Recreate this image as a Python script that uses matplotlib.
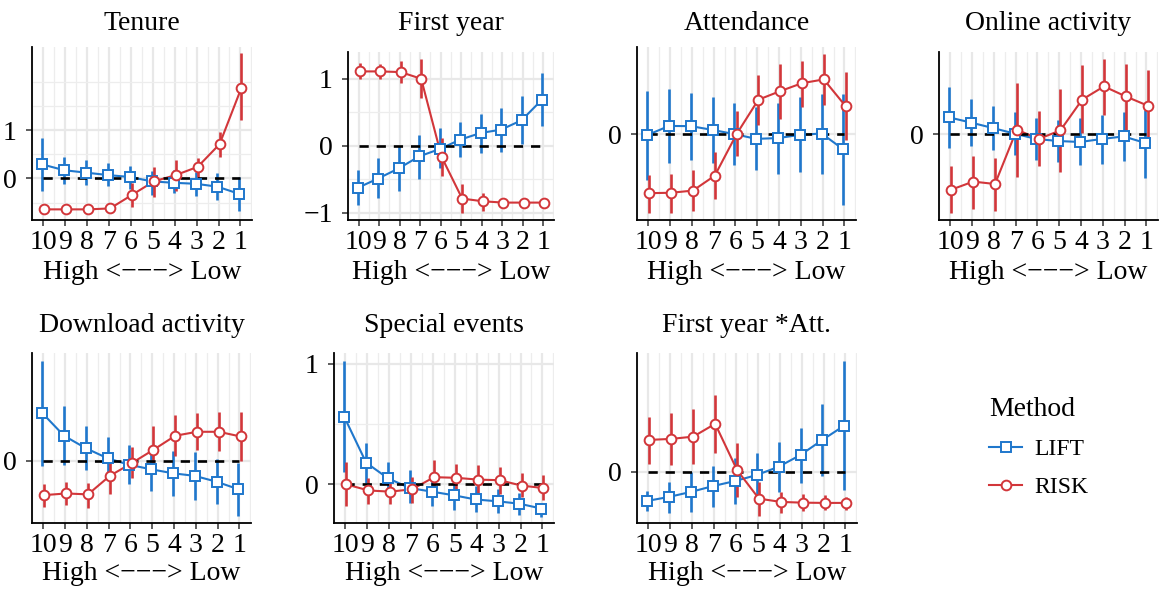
import numpy as np
import matplotlib
matplotlib.use("Agg")
import matplotlib.pyplot as plt
from matplotlib.lines import Line2D

plt.rcParams['font.family'] = ['Liberation Serif', 'DejaVu Serif']
plt.rcParams['font.size'] = 20

# x axis: deciles, high to low
deciles = ['10', '9', '8', '7', '6', '5', '4', '3', '2', '1']
x_label = 'High <\u2212\u2212\u2212> Low'
methods = ['LIFT', 'RISK']

# Tenure
tenure_lift = [0.29, 0.17, 0.12, 0.07, 0.03, -0.06, -0.09, -0.11, -0.17, -0.32]
tenure_lift_lo = [-0.26, -0.12, -0.14, -0.15, -0.21, -0.34, -0.31, -0.37, -0.45, -0.68]
tenure_lift_hi = [0.83, 0.45, 0.38, 0.31, 0.26, 0.16, 0.17, 0.14, 0.12, 0.02]
tenure_risk = [-0.64, -0.64, -0.64, -0.62, -0.34, -0.06, 0.07, 0.24, 0.71, 1.88]
tenure_risk_lo = [-0.66, -0.66, -0.66, -0.66, -0.60, -0.38, -0.26, 0.03, 0.45, 1.21]
tenure_risk_hi = [-0.62, -0.62, -0.62, -0.58, -0.10, 0.24, 0.38, 0.43, 0.97, 2.59]

# First year
first_lift = [-0.63, -0.49, -0.34, -0.16, -0.05, 0.09, 0.19, 0.24, 0.38, 0.69]
first_lift_lo = [-0.88, -0.78, -0.67, -0.50, -0.34, -0.17, -0.11, -0.09, 0.02, 0.30]
first_lift_hi = [-0.37, -0.19, -0.01, 0.16, 0.26, 0.36, 0.48, 0.57, 0.74, 1.09]
first_risk = [1.11, 1.11, 1.10, 1.00, -0.17, -0.79, -0.83, -0.85, -0.85, -0.85]
first_risk_lo = [0.99, 0.99, 0.93, 0.71, -0.46, -1.01, -0.97, -0.90, -0.88, -0.88]
first_risk_hi = [1.23, 1.22, 1.27, 1.29, 0.11, -0.57, -0.70, -0.81, -0.82, -0.82]

# Attendance
att_lift = [-0.003, 0.043, 0.042, 0.023, 0.002, -0.022, -0.018, -0.002, 0.005, -0.075]
att_lift_lo = [-0.23, -0.145, -0.13, -0.145, -0.153, -0.18, -0.20, -0.19, -0.20, -0.357]
att_lift_hi = [0.22, 0.23, 0.21, 0.19, 0.16, 0.14, 0.16, 0.19, 0.205, 0.205]
att_risk = [-0.295, -0.293, -0.282, -0.207, 0.002, 0.175, 0.218, 0.258, 0.277, 0.143]
att_risk_lo = [-0.395, -0.395, -0.383, -0.325, -0.11, 0.047, 0.077, 0.138, 0.147, -0.028]
att_risk_hi = [-0.203, -0.198, -0.18, -0.09, 0.12, 0.30, 0.355, 0.37, 0.405, 0.313]

# Online activity
online_lift = [0.083, 0.057, 0.03, 0.002, -0.025, -0.035, -0.04, -0.025, -0.012, -0.045]
online_lift_lo = [-0.07, -0.062, -0.078, -0.107, -0.128, -0.142, -0.153, -0.148, -0.135, -0.22]
online_lift_hi = [0.235, 0.175, 0.138, 0.108, 0.08, 0.068, 0.08, 0.097, 0.108, 0.122]
online_risk = [-0.278, -0.238, -0.25, 0.022, -0.025, 0.018, 0.172, 0.238, 0.188, 0.142]
online_risk_lo = [-0.395, -0.373, -0.387, -0.217, -0.158, -0.19, 0.005, 0.097, 0.022, -0.037]
online_risk_hi = [-0.158, -0.108, -0.118, 0.255, 0.113, 0.225, 0.345, 0.375, 0.352, 0.318]

# Download activity
down_lift = [0.204, 0.107, 0.054, 0.011, -0.017, -0.036, -0.053, -0.064, -0.089, -0.121]
down_lift_lo = [-0.02, -0.017, -0.039, -0.074, -0.099, -0.127, -0.15, -0.167, -0.184, -0.236]
down_lift_hi = [0.426, 0.233, 0.147, 0.101, 0.066, 0.04, 0.04, 0.036, 0.007, -0.01]
down_risk = [-0.146, -0.139, -0.143, -0.064, -0.01, 0.047, 0.107, 0.124, 0.124, 0.104]
down_risk_lo = [-0.196, -0.19, -0.2, -0.143, -0.074, -0.053, 0.019, 0.047, 0.04, 0.0]
down_risk_hi = [-0.099, -0.089, -0.093, 0.019, 0.061, 0.15, 0.197, 0.204, 0.207, 0.207]

# Special events
special_lift = [0.56, 0.18, 0.05, -0.03, -0.06, -0.09, -0.125, -0.14, -0.16, -0.20]
special_lift_lo = [0.10, 0.01, -0.09, -0.15, -0.18, -0.21, -0.23, -0.24, -0.25, -0.27]
special_lift_hi = [1.02, 0.34, 0.19, 0.12, 0.07, 0.03, -0.01, -0.04, -0.07, -0.15]
special_risk = [0.0, -0.05, -0.06, -0.04, 0.06, 0.055, 0.04, 0.035, -0.01, -0.03]
special_risk_lo = [-0.18, -0.16, -0.16, -0.15, -0.06, -0.065, -0.07, -0.08, -0.105, -0.13]
special_risk_hi = [0.19, 0.05, 0.03, 0.06, 0.20, 0.17, 0.16, 0.145, 0.095, 0.075]

# First year * Attendance
fyatt_lift = [-0.116, -0.10, -0.08, -0.057, -0.037, -0.013, 0.02, 0.067, 0.127, 0.184]
fyatt_lift_lo = [-0.156, -0.163, -0.16, -0.14, -0.127, -0.10, -0.08, -0.044, -0.016, -0.073]
fyatt_lift_hi = [-0.076, -0.04, 0.0, 0.024, 0.053, 0.076, 0.12, 0.176, 0.27, 0.44]
fyatt_risk = [0.127, 0.131, 0.14, 0.191, 0.007, -0.107, -0.12, -0.123, -0.124, -0.124]
fyatt_risk_lo = [0.031, 0.027, 0.031, 0.073, -0.10, -0.177, -0.163, -0.156, -0.153, -0.151]
fyatt_risk_hi = [0.22, 0.233, 0.25, 0.307, 0.116, -0.04, -0.08, -0.089, -0.093, -0.10]

panels = [
    ('Tenure', (tenure_lift, tenure_lift_lo, tenure_lift_hi), (tenure_risk, tenure_risk_lo, tenure_risk_hi)),
    ('First year', (first_lift, first_lift_lo, first_lift_hi), (first_risk, first_risk_lo, first_risk_hi)),
    ('Attendance', (att_lift, att_lift_lo, att_lift_hi), (att_risk, att_risk_lo, att_risk_hi)),
    ('Online activity', (online_lift, online_lift_lo, online_lift_hi), (online_risk, online_risk_lo, online_risk_hi)),
    ('Download activity', (down_lift, down_lift_lo, down_lift_hi), (down_risk, down_risk_lo, down_risk_hi)),
    ('Special events', (special_lift, special_lift_lo, special_lift_hi), (special_risk, special_risk_lo, special_risk_hi)),
    ('First year *Att.', (fyatt_lift, fyatt_lift_lo, fyatt_lift_hi), (fyatt_risk, fyatt_risk_lo, fyatt_risk_hi)),
]

# layout (pixel boxes l, t, r, b) and y scales
W, H = 1161, 591
boxes = [(32, 47, 252, 220), (348, 52, 554, 220), (637, 47, 856, 220), (939, 52, 1158, 220),
         (32, 353, 251, 523), (334, 353, 554, 523), (637, 353, 857, 523)]
ylims = [(-0.86, 2.72), (-1.11, 1.40), (-0.43, 0.44), (-0.43, 0.41),
         (-0.265, 0.46), (-0.32, 1.09), (-0.204, 0.473)]
yticks = [[0, 1], [-1, 0, 1], [0], [0], [0], [0, 1], [0]]
ygrid_extra = [[-0.5, 0.5, 1.5, 2.0], [-0.5, 0.5], [], [], [], [0.5], []]

blue = '#1f77cc'
red = '#d2363a'
colors = {'LIFT': blue, 'RISK': red}
markers = {'LIFT': 's', 'RISK': 'o'}
msize = {'LIFT': 6.5, 'RISK': 7}
dodge = {'LIFT': -0.05, 'RISK': 0.05}

fig = plt.figure(figsize=(W / 100, H / 100), dpi=100)
x = np.arange(len(deciles))

for i, (title, lift, risk) in enumerate(panels):
    l, t, r, b = boxes[i]
    ax = fig.add_axes([l / W, 1 - b / H, (r - l) / W, (b - t) / H])
    series = {'LIFT': lift, 'RISK': risk}

    # grid
    for g in x:
        ax.axvline(g, color='#e8e8e8', lw=1.6, zorder=0)
        ax.axvline(g + 0.5, color='#ededed', lw=0.9, zorder=0)
    ax.axvline(-0.5, color='#ededed', lw=0.9, zorder=0)
    for g in yticks[i]:
        ax.axhline(g, color='#e8e8e8', lw=1.6, zorder=0)
    for g in ygrid_extra[i]:
        ax.axhline(g, color='#ededed', lw=0.9, zorder=0)

    for m in methods:
        mean, lo, hi = series[m]
        ax.vlines(x + dodge[m], lo, hi, color=colors[m], lw=1.9, zorder=2)
    for m in methods:
        mean, lo, hi = series[m]
        ax.plot(x + dodge[m], mean, color=colors[m], lw=1.5, zorder=3)
    ax.plot([x[0], x[-1]], [0, 0], color='black', ls=(0, (3.5, 3)), lw=1.9, zorder=4)
    for m in methods:
        mean, lo, hi = series[m]
        ax.plot(x + dodge[m], mean, ls='none', marker=markers[m], ms=msize[m],
                mfc='white', mec=colors[m], mew=1.4, zorder=5)

    ax.set_xlim(-0.52, 9.53)
    ax.set_ylim(*ylims[i])
    ax.set_xticks(x)
    ax.set_xticklabels(deciles)
    ax.set_yticks(yticks[i])
    ax.set_yticklabels(['\u2212' + str(-v) if v < 0 else str(v) for v in yticks[i]])
    ax.tick_params(axis='x', length=4, width=1.1, pad=3, color='#333333')
    ax.tick_params(axis='y', length=4, width=1.1, pad=7, color='#333333')
    for s in ['top', 'right']:
        ax.spines[s].set_visible(False)
    for s in ['left', 'bottom']:
        ax.spines[s].set_linewidth(1.3)

    cx = (l + r) / 2 / W
    row_top = 30 if i < 4 else 332
    fig.text(cx, 1 - row_top / H, title, ha='center', va='baseline', fontsize=20)
    xl_y = 273 if i < 4 else 573
    fig.text(cx, 1 - xl_y / H, x_label, ha='center', va='center', fontsize=20)

handles = [Line2D([], [], color=colors[m], lw=1.5, marker=markers[m], ms=msize[m],
                  mfc='white', mec=colors[m], mew=1.4) for m in methods]
leg = fig.legend(handles, methods, title='Method', loc='upper left',
                 bbox_to_anchor=(968 / W, 1 - 376 / H), frameon=False, fontsize=17,
                 title_fontsize=20, handlelength=1.4, labelspacing=0.7, handletextpad=0.5)
leg._legend_box.align = 'left'

fig.savefig('out.png', dpi=100)
